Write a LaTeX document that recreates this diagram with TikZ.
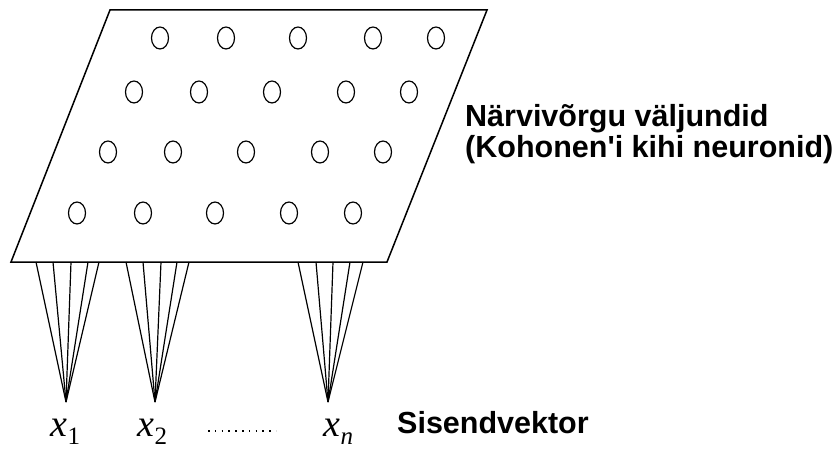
\documentclass[tikz,border=0pt]{standalone}
\usepackage{fontspec}
\setmainfont{Liberation Sans}
\newfontfamily\serifit{Liberation Serif}
\usetikzlibrary{shapes.geometric}
\newcommand{\invar}[2]{{\serifit\itshape\fontsize{38}{38}\selectfont x}\kern0.5pt\raisebox{-8pt}{\serifit\fontsize{25}{25}\selectfont #2}}
\begin{document}
\begin{tikzpicture}[x=1pt,y=-1pt,
  neuron/.style={draw,ellipse,line width=1.2pt,minimum width=17pt,minimum height=22pt,inner sep=0pt},
  edge/.style={line width=1.5pt},
  fanline/.style={line width=1.2pt},
  lab/.style={font=\fontsize{30.5}{36}\selectfont\bfseries,anchor=base west,inner sep=0pt},
  xlab/.style={anchor=base west,inner sep=0pt}]
\useasboundingbox (0,0) rectangle (838,449);
% parallelogram
\coordinate (tl) at (110,10);
\coordinate (tr) at (487,10);
\coordinate (br) at (387,262);
\coordinate (bl) at (11,262);
\draw[edge,line join=miter] (tl) -- (tr) -- (br) -- (bl) -- cycle;
% neurons
\foreach \x [count=\i] in {160,226,298,373,436} \node[neuron] (n1\i) at (\x,38) {};
\foreach \x [count=\i] in {134,199,272,346,409} \node[neuron] (n2\i) at (\x,92) {};
\foreach \x [count=\i] in {108,173,246,320,383} \node[neuron] (n3\i) at (\x,152) {};
\foreach \x [count=\i] in {77,143,215,289,353} \node[neuron] (n4\i) at (\x,213) {};
% apexes
\coordinate (a1) at (66,402);
\coordinate (a2) at (155,402);
\coordinate (a3) at (328,402);
% fans
\foreach \x [count=\i] in {36,53,71,88,99} {\coordinate (f1\i) at (\x,262); \draw[fanline] (f1\i) -- (a1);}
\foreach \x [count=\i] in {126,143,161,177,189} {\coordinate (f2\i) at (\x,262); \draw[fanline] (f2\i) -- (a2);}
\foreach \x [count=\i] in {298,316,333,350,363} {\coordinate (f3\i) at (\x,262); \draw[fanline] (f3\i) -- (a3);}
% input labels
\node[xlab] (x1) at (50,436) {\invar{x}{1}};
\node[xlab] (x2) at (137,436) {\invar{x}{2}};
\node[xlab] (xn) at (323,436) {\invar{x}{\itshape n}};
\coordinate (d1) at (208,431);
\coordinate (d2) at (276,431);
\draw[line width=1.5pt,dash pattern=on 1.5pt off 5.3pt] (d1) -- (d2);
% texts
\node[lab] (t1) at (465,127) {Närvivõrgu väljundid};
\node[lab] (t2) at (465,158) {(Kohonen\textquotesingle i kihi neuronid)};
\node[lab] (t3) at (397,433) {Sisendvektor};
\end{tikzpicture}
\end{document}
